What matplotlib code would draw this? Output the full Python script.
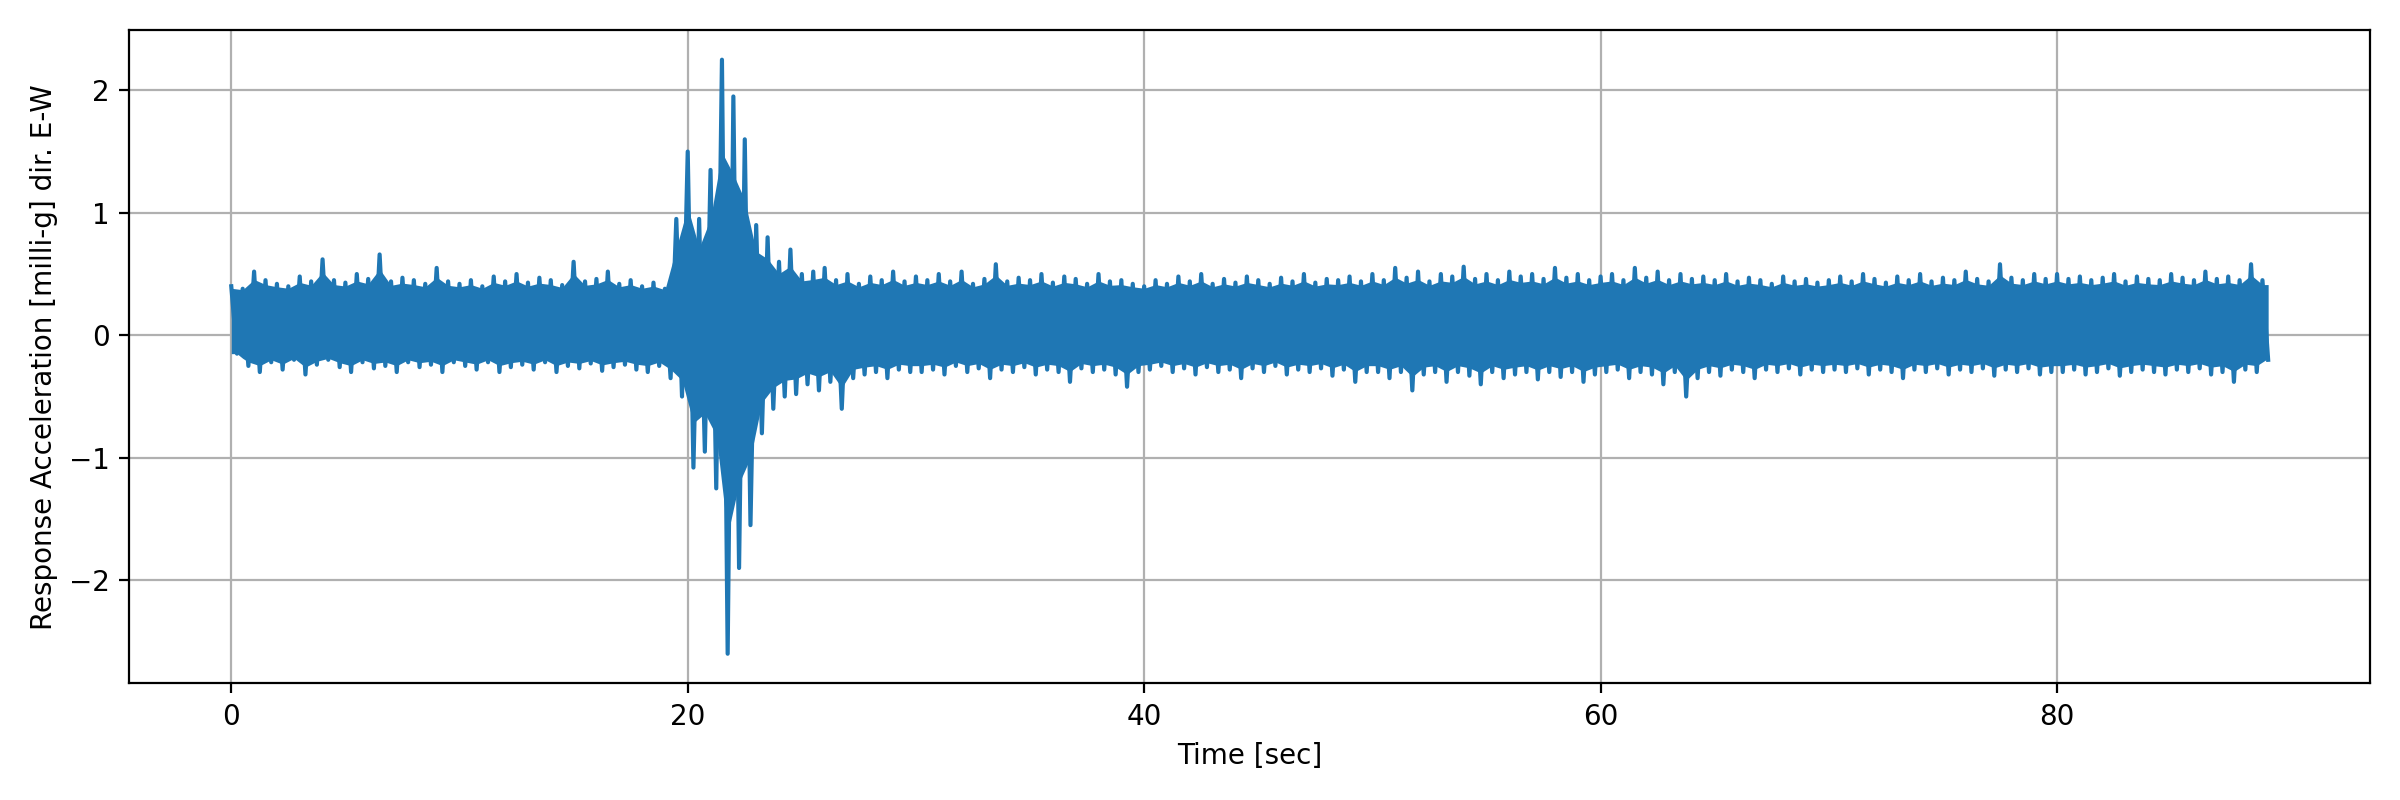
import numpy as np
import matplotlib
matplotlib.use("Agg")
import matplotlib.pyplot as plt

# local maxima / minima of the record, one pair per 0.5 s window
hi = [0.40,0.38,0.52,0.45,0.42,0.40,0.48,0.44,0.62,0.45,0.43,0.50,0.46,0.66,0.44,0.47,0.45,0.42,0.55,0.44,
      0.42,0.45,0.40,0.48,0.44,0.50,0.43,0.47,0.45,0.41,0.60,0.44,0.46,0.52,0.42,0.45,0.40,0.43,0.38,0.95,
      1.50,0.95,1.35,2.25,1.95,1.60,0.90,0.80,0.60,0.70,0.50,0.52,0.55,0.45,0.50,0.42,0.48,0.45,0.52,0.44,
      0.48,0.45,0.50,0.44,0.52,0.42,0.46,0.58,0.44,0.47,0.45,0.50,0.43,0.48,0.46,0.42,0.50,0.44,0.45,0.42,
      0.40,0.45,0.42,0.48,0.44,0.50,0.42,0.46,0.43,0.48,0.45,0.42,0.47,0.44,0.50,0.43,0.46,0.45,0.48,0.44,
      0.50,0.45,0.55,0.47,0.52,0.44,0.50,0.48,0.56,0.46,0.50,0.45,0.52,0.48,0.50,0.46,0.55,0.47,0.50,0.45,
      0.48,0.50,0.45,0.55,0.47,0.52,0.45,0.50,0.46,0.48,0.45,0.50,0.44,0.47,0.45,0.42,0.48,0.44,0.46,0.43,
      0.45,0.48,0.44,0.50,0.46,0.43,0.48,0.45,0.50,0.44,0.47,0.45,0.52,0.46,0.44,0.58,0.47,0.45,0.50,0.46,
      0.50,0.46,0.48,0.45,0.47,0.50,0.44,0.48,0.46,0.45,0.50,0.47,0.45,0.52,0.46,0.48,0.45,0.58,0.45]
lo = [-0.15,-0.25,-0.30,-0.22,-0.28,-0.20,-0.32,-0.24,-0.20,-0.26,-0.30,-0.22,-0.27,-0.25,-0.30,-0.22,-0.26,-0.24,-0.30,-0.22,
      -0.25,-0.28,-0.22,-0.30,-0.26,-0.24,-0.28,-0.22,-0.30,-0.25,-0.27,-0.23,-0.29,-0.26,-0.24,-0.28,-0.30,-0.25,-0.35,-0.50,
      -1.08,-0.95,-1.25,-2.60,-1.90,-1.55,-0.80,-0.60,-0.50,-0.48,-0.40,-0.45,-0.38,-0.60,-0.35,-0.32,-0.30,-0.35,-0.28,-0.30,
      -0.30,-0.28,-0.32,-0.25,-0.30,-0.27,-0.35,-0.28,-0.30,-0.26,-0.32,-0.28,-0.30,-0.38,-0.27,-0.30,-0.28,-0.32,-0.42,-0.30,
      -0.28,-0.25,-0.30,-0.27,-0.32,-0.26,-0.30,-0.28,-0.35,-0.27,-0.30,-0.25,-0.32,-0.28,-0.30,-0.27,-0.33,-0.28,-0.38,-0.30,
      -0.30,-0.35,-0.30,-0.45,-0.32,-0.30,-0.38,-0.30,-0.33,-0.40,-0.30,-0.35,-0.32,-0.30,-0.36,-0.30,-0.34,-0.30,-0.38,-0.32,
      -0.30,-0.28,-0.35,-0.30,-0.32,-0.40,-0.30,-0.50,-0.35,-0.30,-0.33,-0.28,-0.30,-0.35,-0.28,-0.30,-0.27,-0.32,-0.28,-0.30,
      -0.28,-0.30,-0.27,-0.32,-0.28,-0.30,-0.35,-0.28,-0.30,-0.27,-0.32,-0.28,-0.30,-0.27,-0.33,-0.28,-0.30,-0.27,-0.32,-0.30,
      -0.30,-0.28,-0.32,-0.30,-0.27,-0.33,-0.30,-0.28,-0.30,-0.32,-0.28,-0.30,-0.27,-0.32,-0.30,-0.38,-0.28,-0.30,-0.20]
dt = 0.5

n = len(hi)
t_hi = np.arange(n) * dt
t_lo = t_hi + dt / 2
t = np.empty(2 * n)
y = np.empty(2 * n)
t[0::2] = t_hi
t[1::2] = t_lo
y[0::2] = hi
y[1::2] = lo

# core band: fill between the running envelopes (shrunk toward the dense core)
upper = np.interp(t, t_hi, hi)
lower = np.interp(t, t_lo, lo)
core_hi = np.minimum(upper, 0.36 + 0.6 * np.clip(upper - 0.36, 0, None))
core_lo = np.maximum(lower, -0.17 + 0.6 * np.clip(lower + 0.17, None, 0))

fig, ax = plt.subplots(figsize=(12, 4), dpi=200)
ax.fill_between(t, core_lo, core_hi, color="#1f77b4", lw=0, zorder=2)
ax.plot(t, y, color="#1f77b4", lw=1.5, zorder=2)
ax.set_xlabel("Time [sec]")
ax.set_ylabel("Response Acceleration [milli-g] dir. E-W")
ax.grid(True)
fig.tight_layout()
fig.savefig("out.png")
